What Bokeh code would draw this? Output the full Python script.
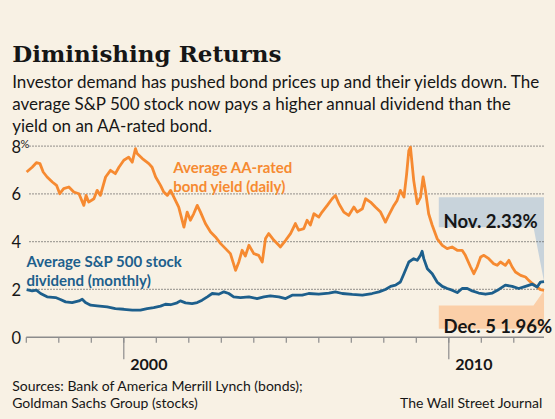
from bokeh.plotting import figure
from bokeh.models import Range1d, Label, PolyAnnotation
from bokeh.embed import file_html
from bokeh.resources import INLINE

# ---------------- data ----------------
bond_years = [1997.01, 1997.18, 1997.31, 1997.42, 1997.52, 1997.64, 1997.80, 1997.93,
              1998.03, 1998.15, 1998.31, 1998.46, 1998.62, 1998.77, 1998.84, 1998.92,
              1999.08, 1999.18, 1999.28, 1999.44, 1999.59, 1999.74, 1999.85, 2000.00,
              2000.15, 2000.26, 2000.36, 2000.41, 2000.57, 2000.77, 2000.87, 2000.98,
              2001.13, 2001.23, 2001.34, 2001.44, 2001.54, 2001.69, 2001.85, 2001.95,
              2002.05, 2002.15, 2002.26, 2002.36, 2002.51, 2002.67, 2002.82, 2002.98,
              2003.13, 2003.28, 2003.44, 2003.54, 2003.64, 2003.74, 2003.85, 2004.00,
              2004.15, 2004.26, 2004.36, 2004.46, 2004.62, 2004.77, 2004.82, 2004.98,
              2005.13, 2005.28, 2005.38, 2005.54, 2005.64, 2005.74, 2005.85, 2006.00,
              2006.10, 2006.26, 2006.41, 2006.51, 2006.62, 2006.77, 2006.92, 2007.08,
              2007.18, 2007.34, 2007.44, 2007.59, 2007.74, 2007.90, 2008.05, 2008.15,
              2008.31, 2008.41, 2008.51, 2008.62, 2008.70, 2008.77, 2008.82, 2008.92,
              2009.03, 2009.13, 2009.21, 2009.28, 2009.38, 2009.49, 2009.64, 2009.80,
              2009.95, 2010.10, 2010.26, 2010.41, 2010.51, 2010.67, 2010.77, 2010.87,
              2010.98, 2011.08, 2011.23, 2011.38, 2011.49, 2011.59, 2011.74, 2011.85,
              2011.95, 2012.05, 2012.21, 2012.36, 2012.46, 2012.57, 2012.72, 2012.82,
              2012.93]
bond_yield = [6.92, 7.12, 7.31, 7.27, 6.92, 6.71, 6.50, 6.36,
              6.01, 6.22, 6.29, 6.08, 6.01, 5.52, 5.94, 5.66,
              5.80, 6.15, 5.94, 6.71, 6.99, 6.85, 7.12, 7.41,
              7.54, 7.33, 7.90, 7.69, 7.48, 7.27, 7.12, 6.71,
              6.36, 6.08, 5.94, 6.15, 5.87, 5.45, 4.61, 5.24,
              4.90, 5.17, 5.52, 5.24, 4.76, 4.41, 4.20, 3.92,
              3.71, 3.50, 2.80, 3.15, 3.64, 3.40, 3.85, 3.50,
              3.43, 3.15, 4.13, 4.34, 4.06, 3.85, 3.78, 4.06,
              4.34, 4.76, 4.48, 4.55, 4.90, 4.70, 5.17, 5.03,
              5.24, 5.52, 5.80, 5.94, 5.59, 5.24, 5.10, 5.45,
              5.24, 5.38, 5.80, 5.66, 5.45, 5.24, 4.82, 5.10,
              5.52, 5.73, 6.15, 5.87, 6.80, 7.82, 7.96, 6.57,
              5.59, 5.87, 6.71, 6.15, 5.17, 4.69, 4.13, 3.85,
              3.71, 3.78, 3.64, 3.64, 3.43, 2.94, 2.66, 2.94,
              3.36, 3.43, 3.29, 3.08, 3.01, 3.15, 3.01, 3.22,
              2.94, 2.73, 2.59, 2.52, 2.38, 2.25, 2.10, 1.99,
              1.96]

div_years = [1997.01, 1997.18, 1997.31, 1997.44, 1997.64, 1997.90, 1998.05, 1998.21,
             1998.41, 1998.62, 1998.72, 1998.82, 1998.98, 1999.18, 1999.49, 1999.74,
             2000.00, 2000.26, 2000.51, 2000.72, 2000.92, 2001.13, 2001.28, 2001.44,
             2001.64, 2001.74, 2001.90, 2002.10, 2002.26, 2002.41, 2002.57, 2002.72,
             2002.92, 2003.08, 2003.23, 2003.38, 2003.59, 2003.85, 2004.10, 2004.31,
             2004.51, 2004.77, 2004.98, 2005.18, 2005.49, 2005.69, 2006.00, 2006.31,
             2006.51, 2006.72, 2007.03, 2007.34, 2007.64, 2007.85, 2008.05, 2008.21,
             2008.36, 2008.51, 2008.62, 2008.77, 2008.92, 2009.03, 2009.13, 2009.18,
             2009.23, 2009.34, 2009.49, 2009.64, 2009.80, 2009.95, 2010.10, 2010.26,
             2010.41, 2010.57, 2010.72, 2010.92, 2011.13, 2011.34, 2011.54, 2011.74,
             2011.95, 2012.15, 2012.36, 2012.57, 2012.72, 2012.82, 2012.93]
div_yield = [1.99, 1.94, 1.97, 1.83, 1.69, 1.66, 1.58, 1.48,
             1.45, 1.52, 1.59, 1.45, 1.34, 1.31, 1.27, 1.20,
             1.17, 1.13, 1.13, 1.20, 1.24, 1.30, 1.38, 1.36,
             1.44, 1.52, 1.44, 1.41, 1.45, 1.55, 1.69, 1.83,
             1.80, 1.90, 1.83, 1.69, 1.66, 1.69, 1.62, 1.69,
             1.73, 1.69, 1.62, 1.76, 1.76, 1.83, 1.80, 1.85,
             1.90, 1.83, 1.79, 1.76, 1.83, 1.90, 2.00, 2.13,
             2.18, 2.31, 2.66, 3.15, 3.29, 3.22, 3.43, 3.60,
             3.29, 2.87, 2.66, 2.31, 2.13, 2.04, 1.97, 1.87,
             2.04, 2.04, 1.94, 1.85, 1.80, 1.85, 2.00, 2.18,
             2.13, 2.04, 2.13, 2.22, 2.10, 2.31, 2.33]

y_ticks = [0, 2, 4, 6, 8]
y_tick_labels = ["0", "2", "4", "6", "8"]
grid_values = [2, 4, 6, 8]
year_ticks = list(range(1997, 2013))
labelled_years = [2000, 2010]
labelled_year_texts = ["2000", "2010"]

title_text = "Diminishing Returns"
subtitle_lines = ["Investor demand has pushed bond prices up and their yields down. The",
                  "average S&P 500 stock now pays a higher annual dividend than the",
                  "yield on an AA-rated bond."]
bond_label = ["Average AA-rated", "bond yield (daily)"]
div_label = ["Average S&P 500 stock", "dividend (monthly)"]
nov_text = "Nov.  2.33%"
dec_text = "Dec. 5  1.96%"
source_lines = ["Sources: Bank of America Merrill Lynch (bonds);", "Goldman Sachs Group (stocks)"]
credit_text = "The Wall Street Journal"

# ---------------- styling / layout ----------------
BG = "#f8f1e4"
ORANGE = "#f68a31"
BLUE = "#1d5f8c"
NOV_BOX = "#c8d3db"
DEC_BOX = "#fbcfa8"
GRID = "#555555"
AXIS = "#8c8c8c"
INK = "#161616"
SANS = "Lato"
SERIF = "DejaVu Serif"

W, H, M = 555, 419, 0
PX_YEAR, PX_UNIT = 32.5, 23.875
X0_PX, Y0_PX = 25.8, 336.7


def X(px):
    return 1997 + (px - X0_PX) / PX_YEAR


def Y(py):
    return (Y0_PX - py) / PX_UNIT


p = figure(width=W, height=H, x_range=Range1d(X(M), X(M + W)), y_range=Range1d(Y(M + H), Y(M)),
           x_axis_type=None, y_axis_type=None, toolbar_location=None, output_backend="svg",
           min_border=0, background_fill_color=BG, border_fill_color=BG, outline_line_color=None)

# annotation boxes (underlay)
nov_tip_x, nov_tip_y = div_years[-1], div_yield[-1]
dec_tip_x, dec_tip_y = bond_years[-1], bond_yield[-1]
L = X(438.3)
p.add_layout(PolyAnnotation(xs=[L, nov_tip_x, nov_tip_x, X(533), L],
                            ys=[Y(196.7), Y(196.7), nov_tip_y, Y(226.7), Y(226.7)],
                            fill_color=NOV_BOX, fill_alpha=1, line_color=None, level="underlay"))
p.add_layout(PolyAnnotation(xs=[L, X(533), dec_tip_x, dec_tip_x, L],
                            ys=[Y(305), Y(305), dec_tip_y, Y(328.3), Y(328.3)],
                            fill_color=DEC_BOX, fill_alpha=1, line_color=None, level="underlay"))

# gridlines
p.segment(x0=X(29), x1=X(543), y0=grid_values, y1=grid_values,
          line_color=GRID, line_width=1.3, line_dash="1 2")

# x axis
p.segment(x0=year_ticks[0], x1=X(543.5), y0=0, y1=0, line_color=AXIS, line_width=1.5)
p.segment(x0=year_ticks, x1=year_ticks, y0=0, y1=Y(Y0_PX + 5.5), line_color=AXIS, line_width=1.2)
p.segment(x0=labelled_years, x1=labelled_years, y0=0, y1=Y(Y0_PX + 22), line_color=AXIS, line_width=1.2)

# data lines
p.line(bond_years, bond_yield, line_color=ORANGE, line_width=2.8, line_join="round")
p.line(div_years, div_yield, line_color=BLUE, line_width=2.8, line_join="round")


def lab(x, y, text, size, color=INK, font=SANS, style="normal", align="left", baseline="alphabetic"):
    p.add_layout(Label(x=x, y=y, text=text, text_font=font, text_font_size=f"{size}px",
                       text_font_style=style, text_color=color, text_align=align,
                       text_baseline=baseline))


# titles
lab(X(11.7), Y(53), title_text, 23, font=SERIF, style="bold")
for i, line in enumerate(subtitle_lines):
    lab(X(11.7), Y(80.7 + 22 * i), line, 17)

# y tick labels
for v, t in zip(y_ticks, y_tick_labels):
    lab(X(11), v, t, 16.5, baseline="middle")
lab(X(20), Y(145.7 - 2.5), "%", 11, baseline="middle")

# year labels
for yr, t in zip(labelled_years, labelled_year_texts):
    lab(yr + 6.5 / PX_YEAR, Y(364), t, 16, style="bold")

# series labels
for i, line in enumerate(bond_label):
    lab(X(172.7), Y(166.7 + 18.5 * i), line, 15, color=ORANGE, style="bold")
for i, line in enumerate(div_label):
    lab(X(26), Y(260.7 + 18.5 * i), line, 15, color=BLUE, style="bold")

# callouts
lab(X(443), Y(220), nov_text, 18.5, style="bold")
lab(X(443), Y(325), dec_text, 18.5, style="bold")

# footer
for i, line in enumerate(source_lines):
    lab(X(11.7), Y(385.3 + 16.7 * i), line, 14)
lab(X(542.3), Y(402), credit_text, 14, align="right")

html = file_html(p, INLINE, title="Diminishing Returns")
html = html.replace("<body>", '<body style="background-color:%s;">' % BG)
open("out.html", "w").write(html)
